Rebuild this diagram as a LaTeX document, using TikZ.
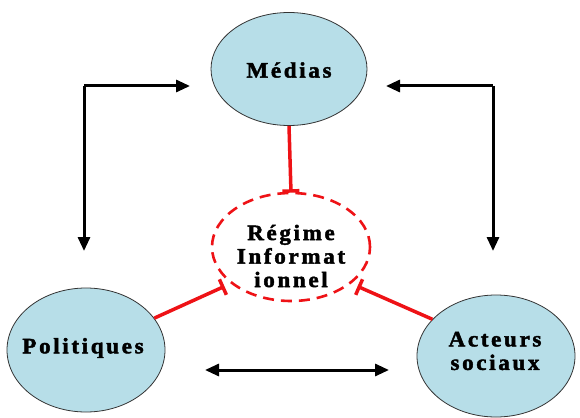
\documentclass[tikz,border=0pt]{standalone}
\usepackage{fontspec}
\usetikzlibrary{shapes.geometric,arrows.meta}
\newfontfamily\lblfont{Liberation Serif}[FakeStretch=1.05,LetterSpace=12,FakeBold=2]
\definecolor{bubble}{RGB}{183,222,232}
\definecolor{rouge}{RGB}{238,18,22}
\tikzset{
  bub/.style={ellipse,draw=black!80,line width=0.8pt,fill=bubble,inner sep=0pt},
  reg/.style={ellipse,draw=rouge,line width=2.6pt,dash pattern=on 11pt off 7pt,fill=white,inner sep=0pt},
  lbl/.style={font=\lblfont\bfseries\fontsize{22}{23.5}\selectfont,align=center,inner sep=0pt},
  redline/.style={draw=rouge,line width=3.5pt,-{Bar[width=17pt,line width=3.5pt]}},
  blk/.style={draw=black,line width=3pt,line join=miter},
  tip/.style={-{Triangle[length=14pt,width=12pt]}},
  tips/.style={{Triangle[length=14pt,width=12pt]}-{Triangle[length=14pt,width=12pt]}}
}
\begin{document}
\begin{tikzpicture}[x=1pt,y=-1pt]
\useasboundingbox (0,0) rectangle (580,417);
\node[bub,minimum width=156pt,minimum height=113pt] (med) at (289,69) {};
\node[lbl] (medt) at (289,70) {Médias};
\node[reg,minimum width=158pt,minimum height=108pt] (rg) at (291,247) {};
\node[lbl] (rgt) at (291,256) {Régime\\Informat\\ionnel};
\node[bub,minimum width=158pt,minimum height=124pt] (pol) at (86,350) {};
\node[lbl] (polt) at (83,348) {Politiques};
\node[bub,minimum width=158pt,minimum height=122pt] (act) at (496,356) {};
\node[lbl] (actt) at (495,351) {Acteurs\\sociaux};
% red links
\draw[redline] (med.south) -- ([yshift=-1pt]rg.north);
\draw[redline] (pol.25) -- ([shift={(-6pt,-3pt)}]rg.211);
\draw[redline] (act.150) -- ([shift={(6pt,-3pt)}]rg.329);
% black arrows
\coordinate (lc) at (84,86);
\coordinate (lr) at (190,86);
\coordinate (ld) at (84,251);
\coordinate (rc) at (493,86);
\coordinate (rl) at (386,86);
\coordinate (rd) at (493,251);
\coordinate (bl) at (205,370);
\coordinate (br) at (389,370);
\draw[blk,tip] (lc) -- (lr);
\draw[blk,tip] (lc) -- (ld);
\draw[blk,tip] (rc) -- (rl);
\draw[blk,tip] (rc) -- (rd);
\draw[blk,tips] (bl) -- (br);
\end{tikzpicture}
\end{document}
